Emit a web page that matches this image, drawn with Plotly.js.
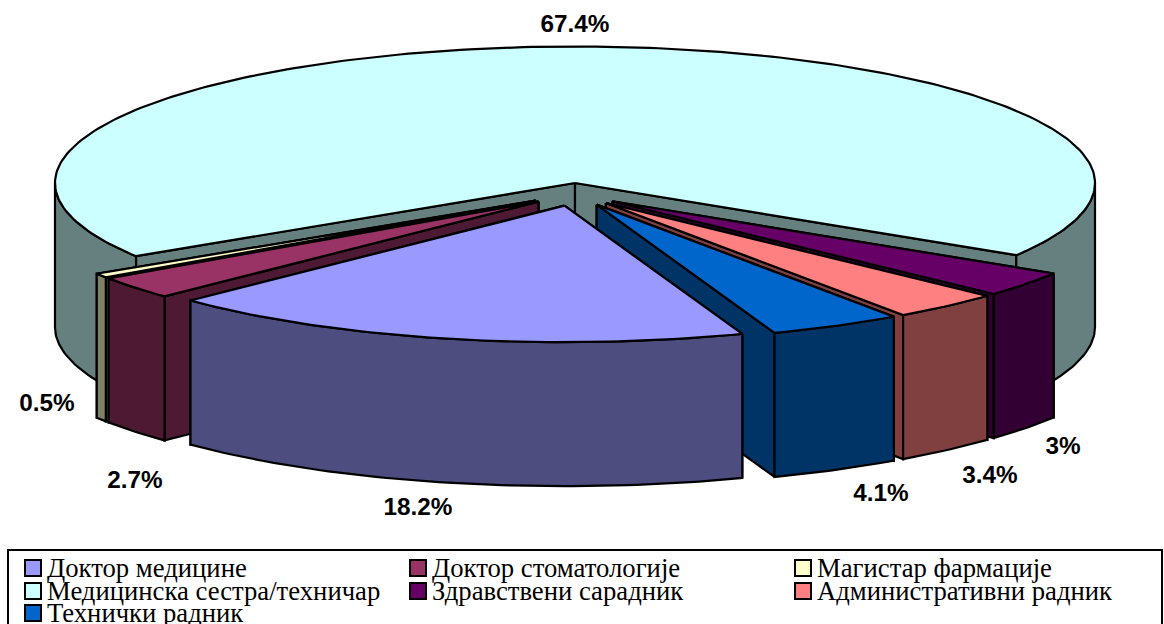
<!DOCTYPE html>
<html><head><meta charset="utf-8">
<script src="https://cdn.plot.ly/plotly-3.0.1.min.js"></script>
<style>html,body{margin:0;padding:0;background:#fff;overflow:hidden}#chart{width:1164px;height:624px}</style>
</head><body><div id="chart"></div>
<script>
// Data
const categories = ["Доктор медицине","Доктор стоматологије","Магистар фармације","Медицинска сестра/техничар","Здравствени сарадник","Административни радник","Технички радник"];
const percents = [18.2,2.7,0.5,67.4,3,3.4,4.1];
const topColors = ["#9999FF","#993366","#FFFFCC","#CCFFFF","#660066","#FF8080","#0066CC"];
const sideColors = ["#4D4D80","#4D1933","#808066","#668080","#330033","#804040","#003366"];
const exploded = [1,1,1,0,1,1,1];

// Pie geometry (axis units equal pixels)
const cx = 575, cy = 183, rx = 520, ry = 136.5, depth = 144, startAngle = 70;
const explodeX = 47, explodeY = 12, explodeDrop = 11;
const paintOrder = [3,4,5,6,2,1,0];
const labelX = [418,135,47,575,1063,990,881];
const labelY = [509,482,405,26,448,477,495];
const legendColX = [33,418,803], legendRowY = [568,591,613], legendTextGap = 14, legendTextDrop = 2;

const total = percents.reduce((a,b)=>a+b,0);
const rad = d => d*Math.PI/180;
let a0 = startAngle;
const slices = percents.map((v,i)=>{
  const from = a0, to = a0 + v/total*360; a0 = to;
  const mid = rad((from+to)/2);
  return {i, from, to,
    ax: cx + exploded[i]*explodeX*Math.cos(mid),
    ay: cy + exploded[i]*(explodeDrop + explodeY*Math.sin(mid))};
});
const traces = [];
function poly(pts, color){
  traces.push({type:"scatter",mode:"lines",x:pts.map(p=>p[0]).concat(pts[0][0]),y:pts.map(p=>p[1]).concat(pts[0][1]),
    fill:"toself",fillcolor:color,line:{color:"#000",width:2.2,shape:"linear"},hoverinfo:"skip",showlegend:false});
}
function rim(s,a){return [s.ax+rx*Math.cos(rad(a)), s.ay+ry*Math.sin(rad(a))];}
function arc(s,from,to){const out=[];const n=Math.max(2,Math.ceil((to-from)));for(let k=0;k<=n;k++)out.push(rim(s,from+(to-from)*k/n));return out;}
const down = p => [p[0],p[1]+depth];
paintOrder.forEach(idx=>{
  const s = slices[idx], col = sideColors[idx];
  const apex = [s.ax,s.ay];
  // the cut wall that faces the viewer is painted last
  const mid = (s.from+s.to)/2;
  const edges = mid>90 && mid<180 ? [s.to,s.from] : [s.from,s.to];
  edges.forEach(a=>{
    const e = rim(s,a);
    poly([apex,e,down(e),down(apex)],col);
  });
  // outer wall only where it faces the viewer
  [[0,180],[360,540]].forEach(w=>{
    const f = Math.max(s.from,w[0]), t = Math.min(s.to,w[1]);
    if(t>f){const top = arc(s,f,t); poly(top.concat(top.map(down).reverse()),col);}
  });
  poly([apex].concat(arc(s,s.from,s.to)),topColors[idx]);
});
// value labels
traces.push({type:"scatter",mode:"text",x:labelX,y:labelY,text:percents.map(v=>v+"%"),textposition:"middle center",
  textfont:{family:"Liberation Sans",size:24.3,color:"#000",weight:700},hoverinfo:"skip",showlegend:false,cliponaxis:false});
// key
const keyX = categories.map((c,i)=>legendColX[i%3]), keyY = categories.map((c,i)=>legendRowY[Math.floor(i/3)]);
traces.push({type:"scatter",mode:"markers",x:keyX,y:keyY,marker:{symbol:"square",size:16,color:topColors,line:{color:"#000",width:2}},hoverinfo:"skip",showlegend:false,cliponaxis:false});
traces.push({type:"scatter",mode:"text",x:keyX.map(v=>v+legendTextGap),y:keyY.map(v=>v+legendTextDrop),text:categories,textposition:"middle right",
  textfont:{family:"Liberation Serif",size:26.7,color:"#000"},hoverinfo:"skip",showlegend:false,cliponaxis:false});

Plotly.newPlot("chart",traces,{
  width:1164,height:624,margin:{l:0,r:0,t:0,b:0},paper_bgcolor:"#fff",plot_bgcolor:"#fff",showlegend:false,hovermode:false,
  xaxis:{range:[0,1164],visible:false,fixedrange:true},
  yaxis:{range:[624,0],visible:false,fixedrange:true},
  shapes:[{type:"rect",layer:"below",x0:8,x1:1162,y0:550,y1:640,line:{color:"#000",width:2},fillcolor:"#fff"}]
},{displayModeBar:false,staticPlot:true});
</script></body></html>
